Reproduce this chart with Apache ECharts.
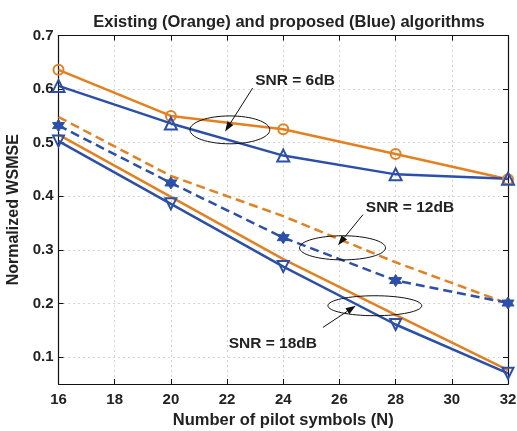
<!DOCTYPE html>
<html>
<head>
<meta charset="utf-8">
<script src="https://cdn.jsdelivr.net/npm/echarts@6/dist/echarts.min.js"></script>
<style>html,body{margin:0;padding:0;background:#fff}#c{width:517px;height:431px}</style>
</head>
<body>
<div id="c"></div>
<script>
// ---- data ----
var pilots = [16, 20, 24, 28, 32];
var existing6 = [0.636, 0.550, 0.525, 0.479, 0.432];
var proposed6 = [0.606, 0.536, 0.476, 0.441, 0.433];
var existing12 = [0.548, 0.438, 0.363, 0.277, 0.200];
var proposed12 = [0.532, 0.425, 0.323, 0.243, 0.201];
var existing18 = [0.515, 0.399, 0.283, 0.179, 0.076];
var proposed18 = [0.503, 0.386, 0.269, 0.161, 0.070];
var yTicks = [0.1, 0.2, 0.3, 0.4, 0.5, 0.6, 0.7];
// annotations in data coordinates
var annotations = [
  {text: 'SNR = 6dB',  textAt: [24.42, 0.615], ellipse: [22.10, 0.524, 1.42, 0.026], arrowFrom: [22.91, 0.602], arrowTo: [21.93, 0.521]},
  {text: 'SNR = 12dB', textAt: [28.51, 0.379], ellipse: [26.11, 0.304, 1.53, 0.0225], arrowFrom: [26.84, 0.366], arrowTo: [25.95, 0.309]},
  {text: 'SNR = 18dB', textAt: [23.63, 0.1256], ellipse: [27.26, 0.196, 1.67, 0.0186], arrowFrom: [25.41, 0.1555], arrowTo: [26.58, 0.196]}
];

var ORANGE = '#E5801E', BLUE = '#2B4FAA';
var FONT = 'Liberation Sans';
var HEX = 'path://M0,-10 L2.887,-5 L8.66,-5 L5.774,0 L8.66,5 L2.887,5 L0,10 L-2.887,5 L-8.66,5 L-5.774,0 L-8.66,-5 L-2.887,-5 Z';
var NOFILL = 'rgba(255,255,255,0)';

function zip(v) { return pilots.map(function (x, i) { return [x, v[i]]; }); }

var chart = echarts.init(document.getElementById('c'), null, {renderer: 'canvas'});

function mkSeries(name, vals, color, dashed, symbol, opts) {
  var s = {
    name: name, type: 'line', data: zip(vals), xAxisIndex: 0, yAxisIndex: 0,
    lineStyle: {color: color, width: 2.5, type: dashed ? [9, 5] : 'solid'},
    itemStyle: {color: NOFILL, borderColor: color, borderWidth: 2},
    symbol: symbol || 'none', symbolSize: 10, showAllSymbol: true,
    animation: false, silent: true, z: 3
  };
  for (var k in opts) s[k] = opts[k];
  return s;
}

var axisLbl = {color: '#222', fontFamily: FONT, fontWeight: 'bold', fontSize: 15};

var option = {
  animation: false,
  backgroundColor: '#fff',
  title: {
    text: 'Existing (Orange) and proposed (Blue) algorithms',
    left: 284, top: 9, textAlign: 'center',
    textStyle: {fontFamily: FONT, fontWeight: 'bold', fontSize: 16.5, color: '#222'}
  },
  grid: {left: 58.5, right: 9, top: 35.5, bottom: 47, containLabel: false, outerBoundsMode: 'none'},
  xAxis: [{
    type: 'value', min: 16, max: 32, interval: 2, position: 'bottom',
    name: 'Number of pilot symbols (N)', nameLocation: 'middle', nameGap: 24,
    nameTextStyle: {fontFamily: FONT, fontWeight: 'bold', fontSize: 16.5, color: '#222'},
    axisLine: {show: true, lineStyle: {color: '#111', width: 1.2}},
    axisTick: {show: true, inside: true, length: 5, lineStyle: {color: '#111'}},
    axisLabel: Object.assign({margin: 8}, axisLbl),
    splitLine: {show: true, lineStyle: {color: '#aaa', type: [1, 4], width: 1}}
  }, {
    type: 'value', min: 16, max: 32, interval: 2, position: 'top',
    axisLine: {show: true, lineStyle: {color: '#111', width: 1.2}},
    axisTick: {show: true, inside: true, length: 5, lineStyle: {color: '#111'}},
    axisLabel: {show: false}, splitLine: {show: false}
  }],
  yAxis: [{
    type: 'value', min: 0.05, max: 0.7, position: 'left',
    name: 'Normalized WSMSE', nameLocation: 'middle', nameGap: 33,
    nameTextStyle: {fontFamily: FONT, fontWeight: 'bold', fontSize: 16, color: '#222'},
    axisLine: {show: true, lineStyle: {color: '#111', width: 1.2}},
    axisTick: {show: true, inside: true, length: 5, lineStyle: {color: '#111'}, customValues: yTicks},
    axisLabel: Object.assign({margin: 5, customValues: yTicks, formatter: function (v) { return v.toFixed(1); }}, axisLbl),
    splitLine: {show: true, lineStyle: {color: '#aaa', type: [1, 4], width: 1}}
  }, {
    type: 'value', min: 0.05, max: 0.7, position: 'right',
    axisLine: {show: true, lineStyle: {color: '#111', width: 1.2}},
    axisTick: {show: true, inside: true, length: 5, lineStyle: {color: '#111'}, customValues: yTicks},
    axisLabel: {show: false, customValues: yTicks}, splitLine: {show: false}
  }],
  series: [
    mkSeries('Existing 12dB', existing12, ORANGE, true, 'none'),
    mkSeries('Proposed 12dB', proposed12, BLUE, true, HEX, {itemStyle: {color: BLUE, borderColor: BLUE, borderWidth: 1}, symbolSize: 12}),
    mkSeries('Existing 18dB', existing18, ORANGE, false, 'none'),
    mkSeries('Proposed 18dB', proposed18, BLUE, false, 'triangle', {symbolRotate: 180, symbolSize: 11}),
    mkSeries('Existing 6dB', existing6, ORANGE, false, 'circle', {symbolSize: 10}),
    mkSeries('Proposed 6dB', proposed6, BLUE, false, 'triangle', {symbolSize: 12})
  ]
};
chart.setOption(option);

// annotations placed via the chart's own coordinate conversion
function px(p) { return chart.convertToPixel({xAxisIndex: 0, yAxisIndex: 0}, p); }
var graphics = [];
annotations.forEach(function (a) {
  var c = px([a.ellipse[0], a.ellipse[1]]);
  var e = px([a.ellipse[0] + a.ellipse[2], a.ellipse[1] + a.ellipse[3]]);
  graphics.push({type: 'ellipse', shape: {cx: c[0], cy: c[1], rx: Math.abs(e[0] - c[0]), ry: Math.abs(e[1] - c[1])},
    style: {fill: 'none', stroke: '#111', lineWidth: 1}, z: 10, silent: true});
  var f = px(a.arrowFrom), t = px(a.arrowTo);
  var dx = t[0] - f[0], dy = t[1] - f[1], L = Math.sqrt(dx * dx + dy * dy);
  var ux = dx / L, uy = dy / L, hl = 10, hw = 3.5;
  var bx = t[0] - ux * hl, by = t[1] - uy * hl;
  graphics.push({type: 'line', shape: {x1: f[0], y1: f[1], x2: bx, y2: by}, style: {stroke: '#111', lineWidth: 1}, z: 10, silent: true});
  graphics.push({type: 'polygon', shape: {points: [[t[0], t[1]], [bx - uy * hw, by + ux * hw], [bx + uy * hw, by - ux * hw]]},
    style: {fill: '#111'}, z: 10, silent: true});
  var tp = px(a.textAt);
  graphics.push({type: 'text', x: tp[0], y: tp[1], style: {text: a.text, align: 'center', verticalAlign: 'middle',
    font: 'bold 15.5px "' + FONT + '"', fill: '#222'}, z: 11, silent: true});
});
chart.setOption({graphic: graphics});
</script>
</body>
</html>
